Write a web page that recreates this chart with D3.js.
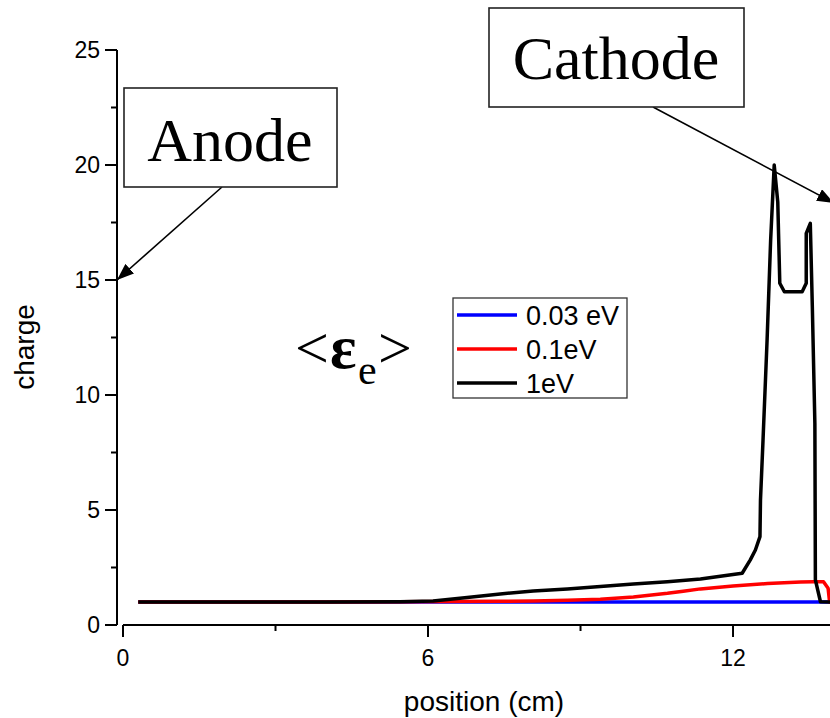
<!DOCTYPE html>
<html>
<head>
<meta charset="utf-8">
<script src="https://cdn.jsdelivr.net/npm/d3@7"></script>
<style>
  html, body { margin: 0; padding: 0; background: #fff; }
  svg { display: block; }
</style>
</head>
<body>
<svg id="chart" width="830" height="718"></svg>
<script>
// Mean electron energy series: charge versus position along the gap
const xBlue = [0.3, 2, 4, 6, 8, 10, 12, 13, 14];
const yBlue = [1, 1, 1, 1, 1, 1, 1, 1, 1];

const xRed = [0.3, 2, 4, 5.45, 7.4, 8.07, 8.74, 9.39, 10.04, 10.71, 11.02, 11.36, 12.0, 12.68, 13.33, 13.58, 13.78, 13.87, 13.9, 14];
const yRed = [1, 1, 1, 1.01, 1.03, 1.04, 1.08, 1.12, 1.22, 1.38, 1.47, 1.57, 1.7, 1.8, 1.87, 1.88, 1.88, 1.6, 1.0, 1.0];

const xBlack = [0.3, 2, 4, 5.45, 6.1, 6.77, 7.42, 8.07, 8.74, 9.39, 10.04, 10.71, 11.36, 12.0, 12.18, 12.34, 12.44, 12.53, 12.54, 12.59, 12.67, 12.74, 12.81, 12.88, 12.92, 13.01, 13.36, 13.44, 13.44, 13.52, 13.56, 13.61, 13.62, 13.72, 14];
const yBlack = [1, 1, 1, 1.01, 1.04, 1.2, 1.35, 1.48, 1.57, 1.67, 1.78, 1.88, 2.0, 2.2, 2.25, 2.83, 3.26, 3.84, 5.43, 8.04, 12.39, 16.74, 20.0, 18.4, 14.86, 14.49, 14.49, 14.86, 17.03, 17.46, 13.84, 8.77, 1.96, 1.01, 1.0];

const seriesNames = ["0.03 eV", "0.1eV", "1eV"];
const seriesColors = ["#0000ff", "#ff0000", "#000000"];

const xTicks = [0, 6, 12];
const xMinorTicks = [3, 9];
const yTicks = [0, 5, 10, 15, 20, 25];
const yMinorTicks = [2.5, 7.5, 12.5, 17.5, 22.5];

const xTitle = "position (cm)";
const yTitle = "charge";

const svg = d3.select("#chart");
const sans = "'Liberation Sans', Arial, sans-serif";
const serif = "'Liberation Serif', 'Times New Roman', serif";

const x = d3.scaleLinear().domain([0, 14]).range([123, 834.7]);
const y = d3.scaleLinear().domain([0, 25]).range([625, 50]);
const yAxisX = 117;

// defs: arrowhead and plot clip
const defs = svg.append("defs");
defs.append("marker")
  .attr("id", "arrow")
  .attr("viewBox", "0 0 10 10")
  .attr("refX", 10).attr("refY", 5)
  .attr("markerUnits", "userSpaceOnUse")
  .attr("markerWidth", 17).attr("markerHeight", 13)
  .attr("preserveAspectRatio", "none")
  .attr("orient", "auto")
  .append("path").attr("d", "M0,0 L10,5 L0,10 Z").attr("fill", "#000");
defs.append("clipPath").attr("id", "plotClip")
  .append("rect").attr("x", yAxisX).attr("y", 40).attr("width", 830 - yAxisX).attr("height", 600);

// y axis (left, offset from x axis)
const yAxisG = svg.append("g").attr("transform", `translate(${yAxisX},0)`);
yAxisG.append("line").attr("y1", y(25)).attr("y2", y(0)).attr("stroke", "#000").attr("stroke-width", 2);
yAxisG.selectAll(".ymaj").data(yTicks).enter().append("line")
  .attr("x1", -12).attr("x2", 0).attr("y1", d => y(d)).attr("y2", d => y(d))
  .attr("stroke", "#000").attr("stroke-width", 2);
yAxisG.selectAll(".ymin").data(yMinorTicks).enter().append("line")
  .attr("x1", -6).attr("x2", 0).attr("y1", d => y(d)).attr("y2", d => y(d))
  .attr("stroke", "#000").attr("stroke-width", 2);
yAxisG.selectAll(".ylab").data(yTicks).enter().append("text")
  .attr("x", -17).attr("y", d => y(d)).attr("dy", "0.36em")
  .attr("text-anchor", "end").attr("font-family", sans).attr("font-size", 23)
  .text(d => d);

// x axis (bottom, starting at its own origin)
const xAxisG = svg.append("g").attr("transform", `translate(0,${y(0)})`);
xAxisG.append("line").attr("x1", x(0)).attr("x2", 840).attr("stroke", "#000").attr("stroke-width", 2);
xAxisG.selectAll(".xmaj").data(xTicks).enter().append("line")
  .attr("x1", d => x(d)).attr("x2", d => x(d)).attr("y1", 0).attr("y2", 12)
  .attr("stroke", "#000").attr("stroke-width", 2);
xAxisG.selectAll(".xmin").data(xMinorTicks).enter().append("line")
  .attr("x1", d => x(d)).attr("x2", d => x(d)).attr("y1", 0).attr("y2", 6)
  .attr("stroke", "#000").attr("stroke-width", 2);
xAxisG.selectAll(".xlab").data(xTicks).enter().append("text")
  .attr("x", d => x(d)).attr("y", 41)
  .attr("text-anchor", "middle").attr("font-family", sans).attr("font-size", 23)
  .text(d => d);

// axis titles
svg.append("text").attr("x", 484).attr("y", 711)
  .attr("text-anchor", "middle").attr("font-family", sans).attr("font-size", 28)
  .text(xTitle);
svg.append("text").attr("transform", "translate(34,347) rotate(-90)")
  .attr("text-anchor", "middle").attr("font-family", sans).attr("font-size", 28)
  .text(yTitle);

// data lines
const line = d3.line().x(d => x(d[0])).y(d => y(d[1]));
const series = [
  d3.zip(xBlue, yBlue),
  d3.zip(xRed, yRed),
  d3.zip(xBlack, yBlack)
];
const plot = svg.append("g").attr("clip-path", "url(#plotClip)");
plot.selectAll(".series").data(series).enter().append("path")
  .attr("d", line)
  .attr("fill", "none")
  .attr("stroke", (d, i) => seriesColors[i])
  .attr("stroke-width", 3.5)
  .attr("stroke-linejoin", "round");

// legend
const legend = svg.append("g");
legend.append("rect").attr("x", 453).attr("y", 298).attr("width", 174).attr("height", 100)
  .attr("fill", "#fff").attr("stroke", "#333").attr("stroke-width", 1.3);
seriesNames.forEach((name, i) => {
  const ly = 315 + i * 34;
  legend.append("line").attr("x1", 457).attr("x2", 517).attr("y1", ly).attr("y2", ly)
    .attr("stroke", seriesColors[i]).attr("stroke-width", 3.5);
  legend.append("text").attr("x", 526).attr("y", ly + 10)
    .attr("font-family", sans).attr("font-size", 27).text(name);
});

// <ε_e> label
const eps = svg.append("text").attr("font-family", serif).attr("y", 368);
eps.append("tspan").attr("x", 295).attr("font-size", 60).text("<");
eps.append("tspan").attr("x", 330).attr("font-size", 62).attr("font-weight", "bold").text("ε");
eps.append("tspan").attr("x", 358).attr("dy", 16).attr("font-size", 42).text("e");
eps.append("tspan").attr("x", 378).attr("dy", -16).attr("font-size", 60).text(">");

// electrode callouts
function callout(bx, by, bw, bh, label, tx, ty, fromX, fromY, toX, toY) {
  svg.append("line").attr("x1", fromX).attr("y1", fromY).attr("x2", toX).attr("y2", toY)
    .attr("stroke", "#000").attr("stroke-width", 1.6).attr("marker-end", "url(#arrow)");
  svg.append("rect").attr("x", bx).attr("y", by).attr("width", bw).attr("height", bh)
    .attr("fill", "#fff").attr("stroke", "#222").attr("stroke-width", 1.6);
  svg.append("text").attr("x", tx).attr("y", ty).attr("text-anchor", "middle")
    .attr("font-family", serif).attr("font-size", 62).text(label);
}
callout(124, 88, 213, 99, "Anode", 230, 161, 222, 187, yAxisX, y(15));
callout(489, 8, 255, 99, "Cathode", 616, 79, 653, 107, 834, 203);
</script>
</body>
</html>
